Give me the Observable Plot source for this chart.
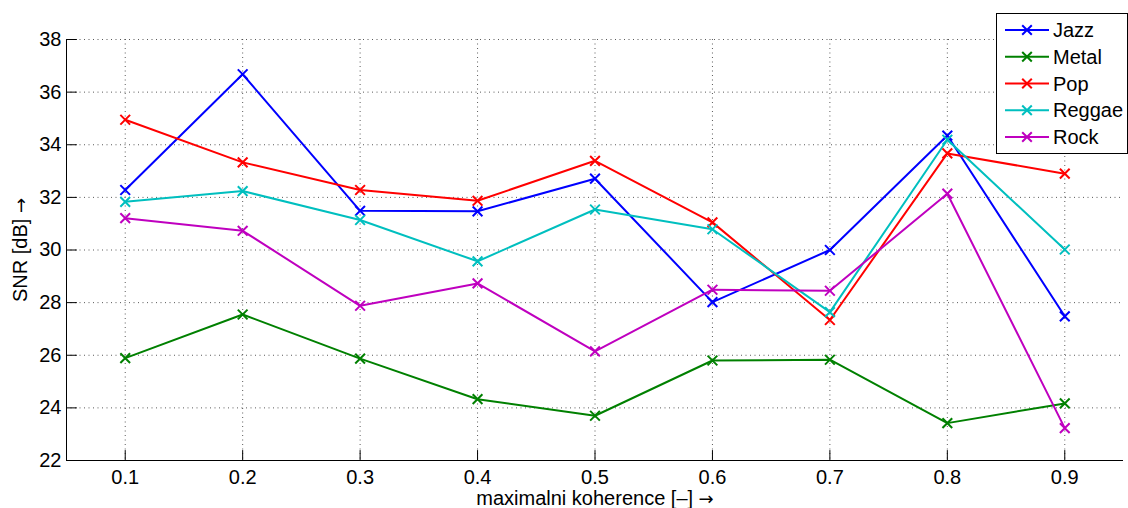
<!DOCTYPE html>
<html>
<head>
<meta charset="utf-8">
<script src="https://cdn.jsdelivr.net/npm/d3@7"></script>
<script src="https://cdn.jsdelivr.net/npm/@observablehq/plot@0.6"></script>
<style>
html, body { margin: 0; padding: 0; background: #fff; }
#wrap { position: relative; width: 1128px; height: 508px; font-family: "Liberation Sans", Arial, sans-serif; }
#legend { position: absolute; left: 996px; top: 13px; width: 130px; height: 139px; border: 1px solid #000; background: #fff; }
</style>
</head>
<body>
<div id="wrap"></div>
<script>
// ---- data ----
const coherence = [0.1, 0.2, 0.3, 0.4, 0.5, 0.6, 0.7, 0.8, 0.9];
const seriesNames = ["Jazz", "Metal", "Pop", "Reggae", "Rock"];
const seriesColors = ["#0000ff", "#008000", "#ff0000", "#00bfbf", "#bf00bf"];
const jazz   = [32.28, 36.68, 31.49, 31.47, 32.71, 28.02, 30.00, 34.35, 27.48];
const metal  = [25.89, 27.55, 25.87, 24.33, 23.70, 25.80, 25.83, 23.42, 24.17];
const pop    = [34.95, 33.33, 32.28, 31.87, 33.39, 31.05, 27.34, 33.67, 32.90];
const reggae = [31.83, 32.24, 31.14, 29.57, 31.54, 30.79, 27.64, 34.19, 30.02];
const rock   = [31.21, 30.73, 27.88, 28.73, 26.15, 28.49, 28.45, 32.14, 23.23];
const xTicks = [0.1, 0.2, 0.3, 0.4, 0.5, 0.6, 0.7, 0.8, 0.9];
const yTicks = [22, 24, 26, 28, 30, 32, 34, 36, 38];
const xDomain = [0.05, 0.95];
const yDomain = [22, 38];
const xLabel = "maximalni koherence [–] →";
const yLabel = "SNR [dB] →";

const values = [jazz, metal, pop, reggae, rock];
const data = seriesNames.flatMap((s, i) => coherence.map((x, j) => ({series: s, x, y: values[i][j]})));

const tickShape = {draw(ctx, l) { ctx.moveTo(0, 0); ctx.lineTo(0, -l); }};
const font = "'Liberation Sans', Arial, sans-serif";
const fs = 20;
const gridStyle = {stroke: "#000", strokeOpacity: 0.65, strokeDasharray: "1,3.5"};

const chart = Plot.plot({
  width: 1128, height: 508,
  marginLeft: 66, marginRight: 5, marginTop: 39, marginBottom: 48,
  style: {fontFamily: font, fontSize: fs + "px", background: "transparent", color: "#000", overflow: "visible"},
  x: {domain: xDomain},
  y: {domain: yDomain},
  color: {domain: seriesNames, range: seriesColors},
  marks: [
    Plot.gridX(xTicks, gridStyle),
    Plot.gridY(yTicks, gridStyle),
    Plot.ruleX([xDomain[0]], {stroke: "#000", strokeWidth: 1}),
    Plot.ruleY([yDomain[0]], {stroke: "#000", strokeWidth: 1}),
    Plot.vector(xTicks, {x: d => d, y: yDomain[0], length: 10, rotate: 0, anchor: "start", shape: tickShape, stroke: "#000", strokeWidth: 1}),
    Plot.vector(yTicks, {x: xDomain[0], y: d => d, length: 10, rotate: 90, anchor: "start", shape: tickShape, stroke: "#000", strokeWidth: 1}),
    Plot.axisX(xTicks, {tickSize: 0, tickPadding: 9, label: null, fontSize: fs, tickFormat: d => d.toFixed(1)}),
    Plot.axisY(yTicks, {tickSize: 0, tickPadding: 5, label: null, fontSize: fs}),
    Plot.line(data, {x: "x", y: "y", z: "series", stroke: "series", strokeWidth: 2}),
    Plot.dot(data, {x: "x", y: "y", symbol: "times", stroke: "series", strokeWidth: 2, r: 4.5}),
    Plot.text([xLabel], {frameAnchor: "bottom", dy: 38, textAnchor: "middle", lineAnchor: "middle", fontSize: fs}),
    Plot.text([yLabel], {frameAnchor: "left", dx: -46, rotate: -90, textAnchor: "middle", lineAnchor: "middle", fontSize: fs})
  ]
});

// render arrows with a font that has a proper wide arrow glyph
d3.select(chart).selectAll("text").each(function() {
  const t = this.textContent;
  if (!t.includes("→")) return;
  const sel = d3.select(this);
  sel.text(null);
  const parts = t.split("→");
  parts.forEach((p, i) => {
    if (p) sel.append("tspan").text(p);
    if (i < parts.length - 1) sel.append("tspan").style("font-family", "'DejaVu Sans'").style("font-size", "18px").text("→");
  });
});

const wrap = document.getElementById("wrap");
wrap.appendChild(chart);

// ---- legend ----
const legend = document.createElement("div");
legend.id = "legend";
wrap.appendChild(legend);
const lsvg = d3.select(legend).append("svg").attr("width", 130).attr("height", 139)
  .style("display", "block").style("font-family", font).style("font-size", fs + "px");
seriesNames.forEach((name, i) => {
  const cy = 16 + i * 26.75;
  const g = lsvg.append("g").attr("transform", `translate(0,${cy})`);
  g.append("line").attr("x1", 8).attr("x2", 52).attr("y1", 0).attr("y2", 0)
    .attr("stroke", seriesColors[i]).attr("stroke-width", 2);
  const r = 4.8;
  g.append("path").attr("d", `M${30 - r},${-r}L${30 + r},${r}M${30 - r},${r}L${30 + r},${-r}`)
    .attr("stroke", seriesColors[i]).attr("stroke-width", 2).attr("fill", "none");
  g.append("text").attr("x", 56).attr("y", 0).attr("dy", "0.35em").attr("fill", "#000").text(name);
});
</script>
</body>
</html>
